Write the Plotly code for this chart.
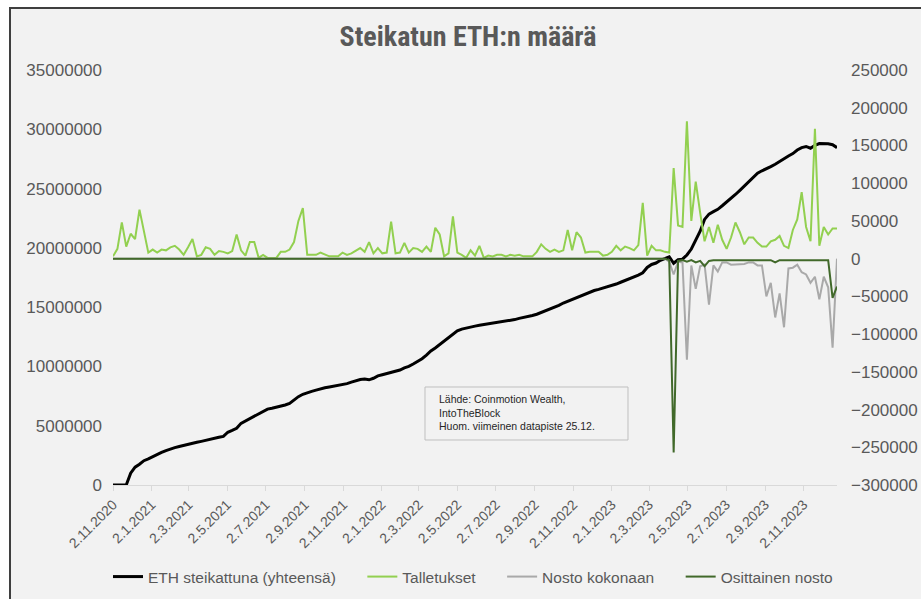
import plotly.graph_objects as go
import pandas as pd

# ---------------- data ----------------
start_date = "2020-11-02"
n_weeks = 165
weeks = pd.date_range(start_date, periods=n_weeks, freq="7D")

# ETH staked in total (millions of ETH), left axis
staked_m = [
    0, 0, 0, 0, 1.0, 1.5, 1.75, 2.05, 2.2, 2.4,
    2.6, 2.75, 2.9, 3.05, 3.15, 3.25, 3.35, 3.42, 3.5, 3.6,
    3.68, 3.75, 3.83, 3.93, 4.02, 4.1, 4.45, 4.6, 4.78, 5.2,
    5.4, 5.6, 5.75, 5.95, 6.2, 6.4, 6.48, 6.55, 6.62, 6.75,
    6.88, 7.2, 7.45, 7.65, 7.8, 7.9, 8.0, 8.12, 8.2, 8.27,
    8.33, 8.4, 8.45, 8.55, 8.68, 8.8, 8.9, 8.93, 8.87, 9.0,
    9.2, 9.3, 9.4, 9.5, 9.6, 9.7, 9.88, 10.0, 10.2, 10.4,
    10.65, 10.95, 11.3, 11.55, 11.85, 12.15, 12.45, 12.75, 13.0, 13.15,
    13.25, 13.32, 13.4, 13.47, 13.53, 13.6, 13.68, 13.73, 13.77, 13.8,
    13.87, 13.95, 14.05, 14.12, 14.2, 14.3, 14.4, 14.55, 14.7, 14.82,
    14.95, 15.15, 15.35, 15.5, 15.68, 15.85, 16.0, 16.15, 16.28, 16.4,
    16.5, 16.6, 16.7, 16.8, 16.95, 17.1, 17.25, 17.35, 17.5, 17.7,
    17.9, 18.35, 18.6, 18.72, 18.95, 19.1, 19.25, 18.7, 19.0, 19.05,
    19.4, 19.9, 20.6, 21.4, 22.4, 22.85, 23.05, 23.25, 23.55, 23.85,
    24.15, 24.5, 24.85, 25.2, 25.55, 25.95, 26.3, 26.5, 26.65, 26.85,
    27.05, 27.3, 27.5, 27.75, 27.95, 28.25, 28.45, 28.55, 28.4, 28.65,
    28.8, 28.8, 28.78, 28.7, 28.45,
]

# Deposits (thousands of ETH), right axis
deposits_k = [
    3, 13, 48, 16, 33, 26, 65, 38, 8, 12,
    8, 12, 11, 15, 17, 12, 5, 15, 26, 3,
    5, 15, 13, 5, 10, 9, 7, 10, 32, 11,
    4, 22, 22, 1, 5, 1, 1, 1, 9, 9,
    12, 22, 50, 67, 5, 5, 5, 8, 5, 3,
    3, 3, 8, 5, 7, 10, 14, 9, 22, 7,
    14, 7, 8, 49, 7, 8, 21, 8, 14, 13,
    9, 16, 9, 41, 32, 3, 7, 56, 8, 5,
    1, 11, 4, 17, 1, 4, 3, 5, 5, 3,
    5, 4, 5, 3, 3, 3, 9, 19, 13, 9,
    12, 9, 11, 38, 11, 35, 28, 8, 9, 9,
    9, 4, 5, 9, 17, 11, 16, 14, 11, 18,
    74, 4, 17, 11, 11, 9, 8, 120, 44, 42,
    182, 50, 102, 61, 23, 42, 21, 45, 25, 13,
    28, 48, 35, 19, 28, 28, 21, 16, 16, 23,
    25, 30, 17, 14, 38, 52, 88, 42, 23, 172,
    17, 42, 32, 40, 40,
]

# Full withdrawals (thousands of ETH), right axis - zero before Shanghai
full_withdrawal_k = [0] * 126 + [
    -4, -21, -4, -5, -134, -9, -40, -10, -8, -61,
    -9, -17, -5, -5, -8, -8, -7, -7, -5, -5,
    -9, -9, -50, -32, -78, -46, -91, -13, -12, -8,
    -18, -21, -32, -24, -54, -24, -38, -118, 0,
]

# Partial withdrawals (thousands of ETH), right axis - zero before Shanghai
partial_withdrawal_k = [0] * 126 + [
    -2, -257, -3, -2, -4, -2, -5, -3, -10, -3,
    -2, -2, -3, -2, -2, -3, -2, -2, -2, -2,
    -3, -2, -2, -2, -5, -2, -2, -2, -2, -2,
    -2, -2, -2, -2, -2, -2, -2, -52, -37,
]

series_names = ["ETH steikattuna (yhteensä)", "Talletukset", "Nosto kokonaan", "Osittainen nosto"]

tick_dates = [
    "2020-11-02", "2021-01-02", "2021-03-02", "2021-05-02", "2021-07-02", "2021-09-02",
    "2021-11-02", "2022-01-02", "2022-03-02", "2022-05-02", "2022-07-02", "2022-09-02",
    "2022-11-02", "2023-01-02", "2023-03-02", "2023-05-02", "2023-07-02", "2023-09-02",
    "2023-11-02",
]
tick_labels = [
    "2.11.2020", "2.1.2021", "2.3.2021", "2.5.2021", "2.7.2021", "2.9.2021",
    "2.11.2021", "2.1.2022", "2.3.2022", "2.5.2022", "2.7.2022", "2.9.2022",
    "2.11.2022", "2.1.2023", "2.3.2023", "2.5.2023", "2.7.2023", "2.9.2023",
    "2.11.2023",
]

left_ticks = [0, 5000000, 10000000, 15000000, 20000000, 25000000, 30000000, 35000000]
right_ticks = [-300000, -250000, -200000, -150000, -100000, -50000, 0, 50000, 100000, 150000, 200000, 250000]

title_text = "Steikatun ETH:n määrä"
note_text = "Lähde: Coinmotion Wealth,<br>IntoTheBlock<br>Huom. viimeinen datapiste 25.12."

assert len(staked_m) == n_weeks and len(deposits_k) == n_weeks
assert len(full_withdrawal_k) == n_weeks and len(partial_withdrawal_k) == n_weeks

# ---------------- figure ----------------
W, H = 921, 599
L, R, T, B = 113, 84, 70, 114
plot_w = W - L - R
plot_h = H - T - B


def px_x(px):
    return (px - L) / plot_w


def px_y(py):
    return (H - B - py) / plot_h


TXT = "#595959"
FONT = "Liberation Sans, Arial, sans-serif"
PAD = "\u00a0" * 5  # extra spacing between legend entries

fig = go.Figure()
fig.add_trace(go.Scatter(
    x=weeks, y=[v * 1e6 for v in staked_m], name=series_names[0] + PAD, mode="lines",
    line=dict(color="#000000", width=3), yaxis="y"))
fig.add_trace(go.Scatter(
    x=weeks, y=[v * 1e3 for v in deposits_k], name=series_names[1] + PAD, mode="lines",
    line=dict(color="#92d050", width=2), yaxis="y2"))
fig.add_trace(go.Scatter(
    x=weeks, y=[v * 1e3 for v in full_withdrawal_k], name=series_names[2] + PAD, mode="lines",
    line=dict(color="#a9a9a9", width=2), yaxis="y2"))
fig.add_trace(go.Scatter(
    x=weeks, y=[v * 1e3 for v in partial_withdrawal_k], name=series_names[3], mode="lines",
    line=dict(color="#41692a", width=2), yaxis="y2"))

fig.update_layout(
    width=W, height=H,
    margin=dict(l=L, r=R, t=T, b=B, autoexpand=False),
    paper_bgcolor="#ffffff",
    plot_bgcolor="rgba(0,0,0,0)",
    font=dict(family=FONT, color=TXT, size=15),
    title=dict(text="<b>" + title_text + "</b>", x=468 / W, xanchor="center",
               y=1 - 36 / H, yanchor="middle",
               font=dict(family="Liberation Sans Narrow, Roboto Condensed, Liberation Sans, Arial",
                         size=28, color=TXT)),
    xaxis=dict(
        type="date", range=[weeks[0], weeks[-1]],
        tickvals=tick_dates, ticktext=tick_labels, tickangle=-45,
        tickfont=dict(size=14, color=TXT),
        showgrid=False, zeroline=False,
        showline=True, linecolor="#d9d9d9", linewidth=1,
        ticks="outside", ticklen=5, tickcolor="#d9d9d9",
    ),
    yaxis=dict(
        range=[0, 35000000], tickvals=left_ticks, tickformat="d",
        tickfont=dict(size=17, color=TXT), showgrid=False, zeroline=False,
        ticklabelstandoff=10,
    ),
    yaxis2=dict(
        range=[-300000, 250000], tickvals=right_ticks, tickformat="d",
        overlaying="y", side="right",
        tickfont=dict(size=17, color=TXT), showgrid=False, zeroline=False,
        ticklabelstandoff=13,
    ),
    legend=dict(
        orientation="h", x=px_x(108), xanchor="left",
        y=px_y(577), yanchor="middle",
        font=dict(size=15.5, color=TXT), bgcolor="rgba(0,0,0,0)",
        itemwidth=30, traceorder="normal",
    ),
    showlegend=True,
)

# chart frame (light gray area with dark border, cropped at right/bottom)
fig.add_shape(type="rect", xref="paper", yref="paper",
              x0=px_x(10), y0=px_y(610), x1=px_x(935), y1=px_y(8),
              fillcolor="#f2f2f2", line=dict(color="#3f3f3f", width=2), layer="below")

# note box
fig.add_shape(type="rect", xref="paper", yref="paper",
              x0=px_x(425), y0=px_y(440), x1=px_x(628), y1=px_y(387),
              fillcolor="#f2f2f2", line=dict(color="#bfbfbf", width=1), layer="below")
fig.add_annotation(xref="paper", yref="paper", x=px_x(437), y=px_y(391),
                   xanchor="left", yanchor="top", align="left", showarrow=False,
                   text=note_text,
                   font=dict(family="Liberation Sans Narrow, Liberation Sans, Arial", size=10.5, color="#262626"))

fig.write_html("out.html", config={"displayModeBar": False},
               post_script="document.body.style.margin='0';")
